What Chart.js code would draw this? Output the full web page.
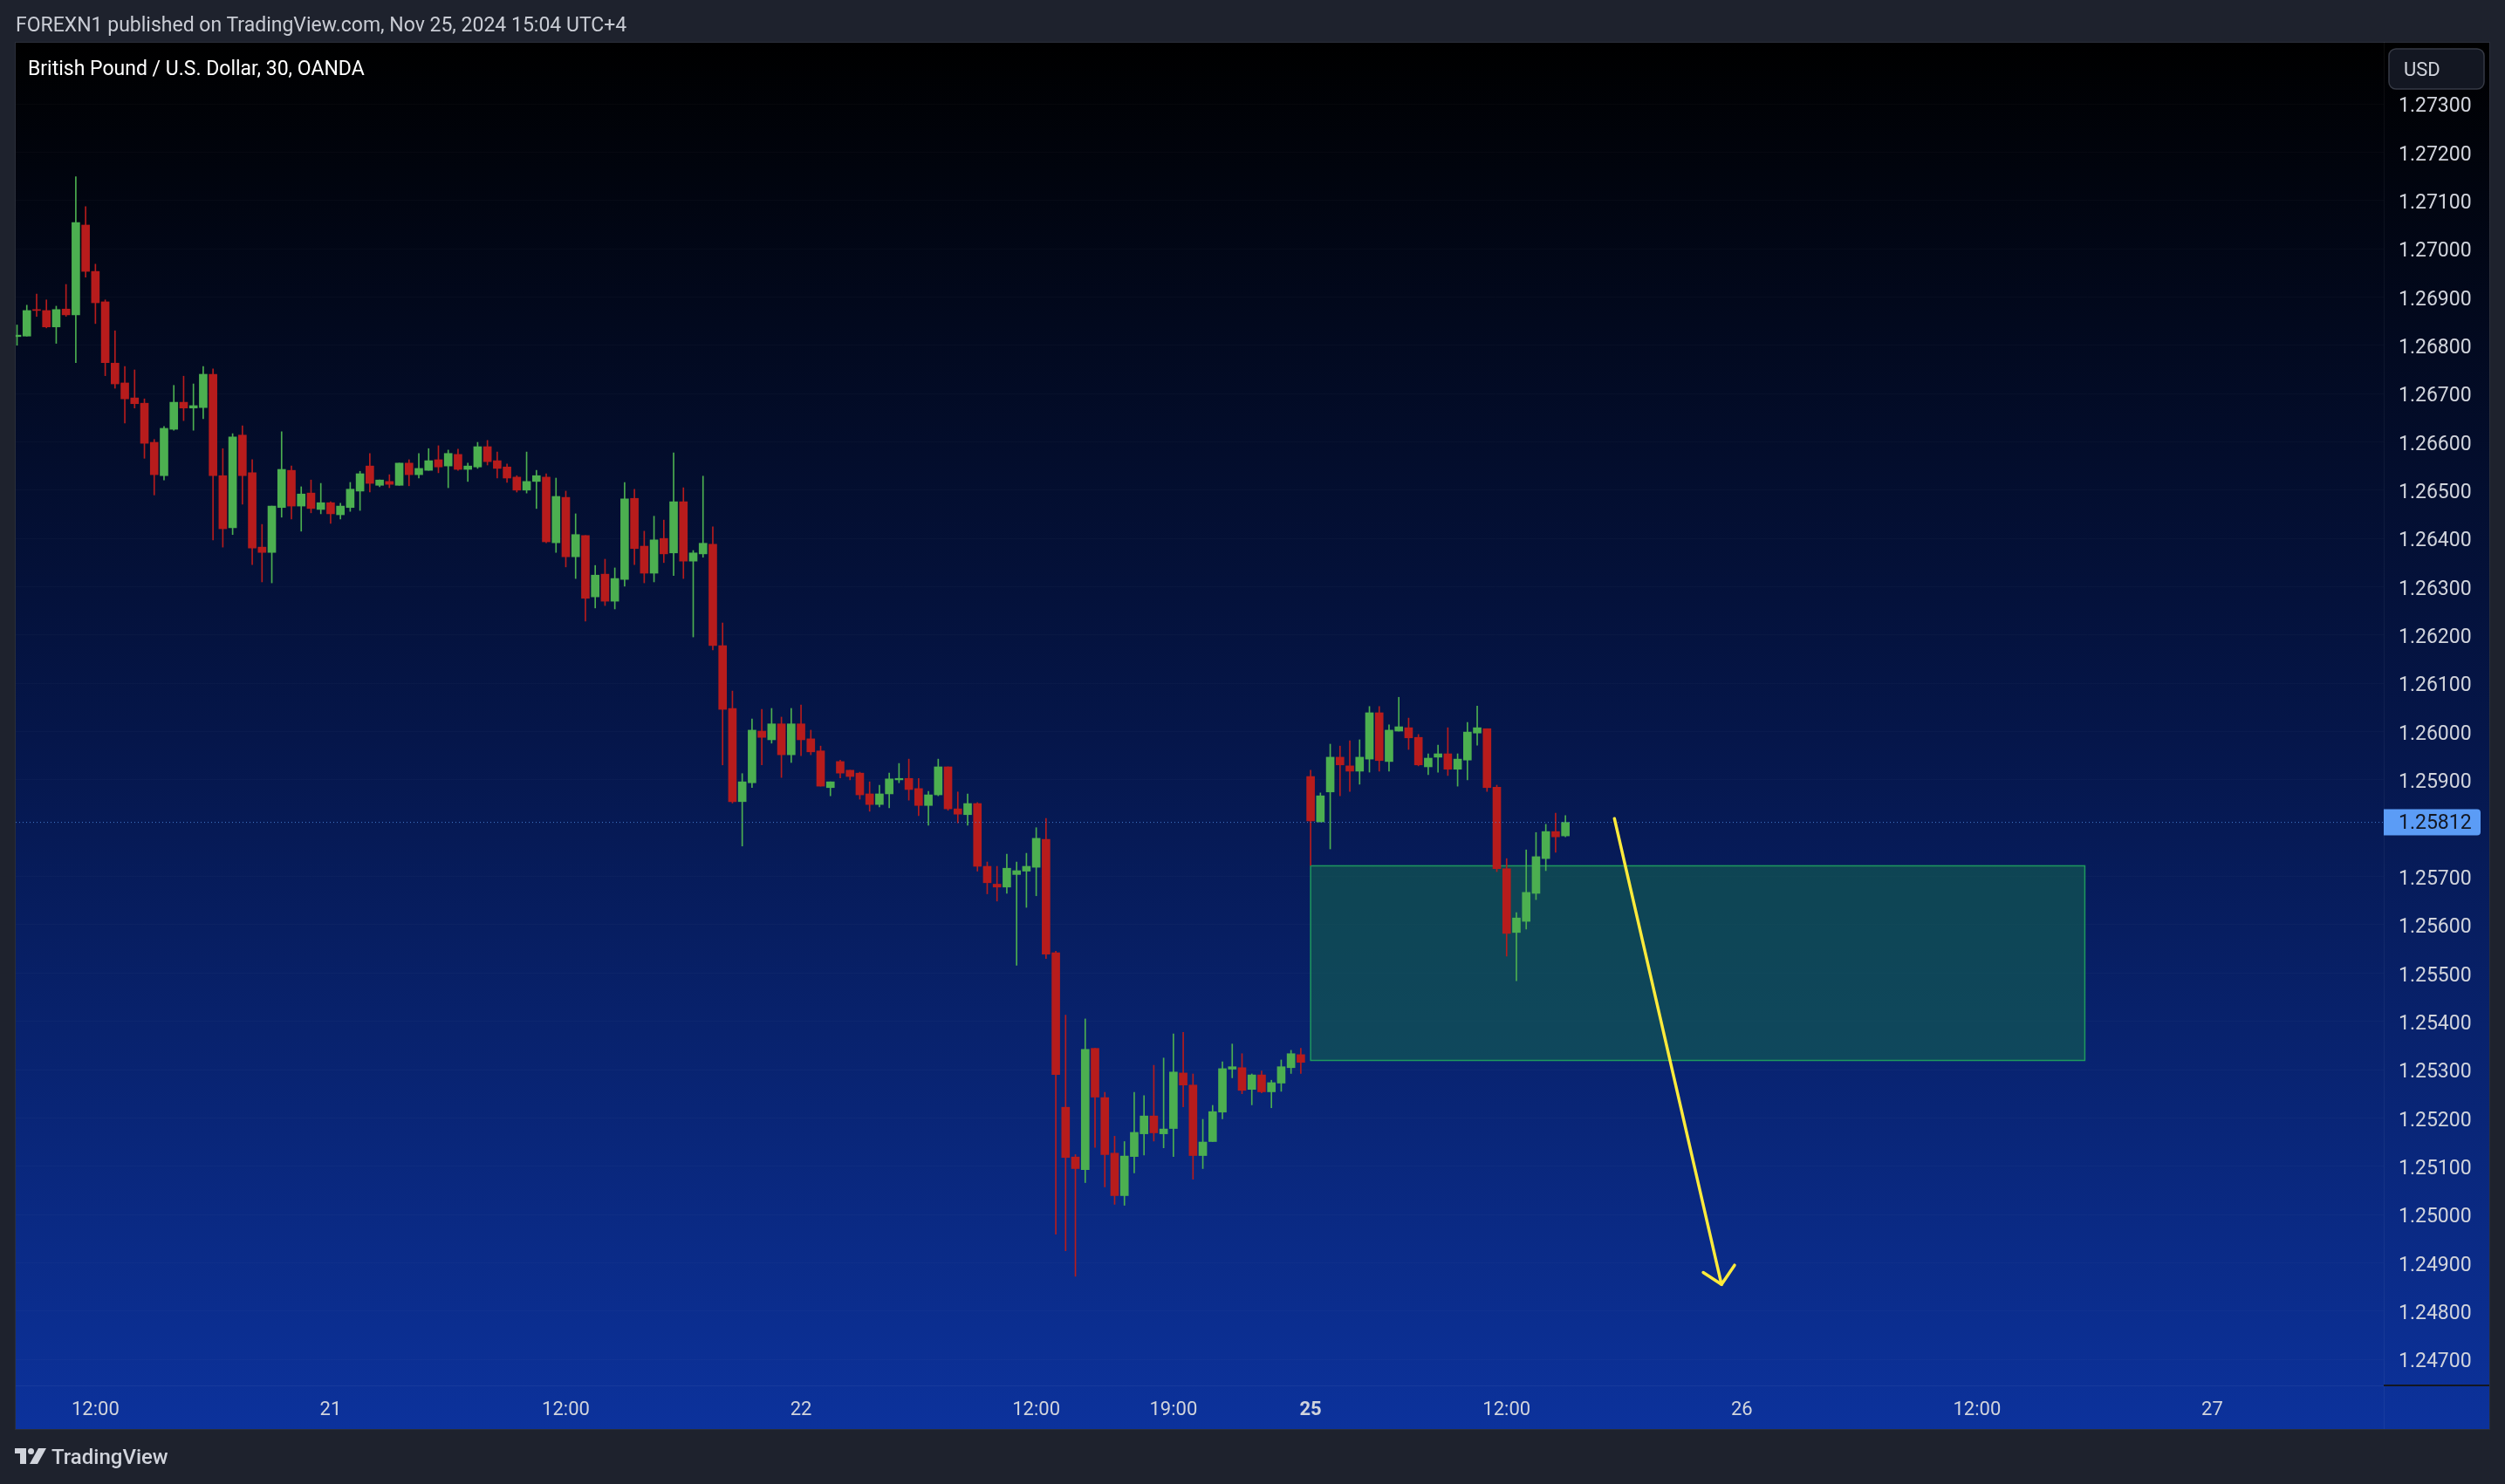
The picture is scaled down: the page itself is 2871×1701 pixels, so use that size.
<!DOCTYPE html>
<html>
<head>
<meta charset="utf-8">
<title>GBPUSD 30 OANDA</title>
<script src="https://cdn.jsdelivr.net/npm/chart.js@4.4.1/dist/chart.umd.min.js"></script>
<style>
html, body { margin: 0; padding: 0; background: #1e222d; overflow: hidden; }
#wrap { position: relative; width: 2871px; height: 1701px; }
canvas { position: absolute; left: 0; top: 0; }
.txt { position: absolute; font-family: Roboto, "Noto Sans", sans-serif; line-height: 1; white-space: nowrap; }
#pub { left: 18px; top: 17px; font-size: 23px; color: #c9ccd4; }
#title { left: 32px; top: 67px; font-size: 23px; color: #ffffff; }
#logoTxt { left: 59px; top: 1658px; font-size: 24px; color: #d1d4dc; font-weight: 500; }
#logoIcon { position: absolute; left: 17px; top: 1660px; }
</style>
</head>
<body>
<div id="wrap">
<canvas id="chart" width="2871" height="1701"></canvas>
<div class="txt" id="pub">FOREXN1 published on TradingView.com, Nov 25, 2024 15:04 UTC+4</div>
<div class="txt" id="title">British Pound / U.S. Dollar, 30, OANDA</div>
<svg id="logoIcon" width="36" height="18" viewBox="0 0 36 18">
  <path d="M0 0 H13 V18 H6 V6 H0 Z" fill="#d1d4dc"/>
  <circle cx="18.5" cy="3.5" r="3.5" fill="#d1d4dc"/>
  <polygon points="27,0 36,0 26,18 17,18" fill="#d1d4dc"/>
</svg>
<div class="txt" id="logoTxt">TradingView</div>
</div>
<script>
// 30 min candles, 20 Nov 08:00 -> 25 Nov 15:00 (weekend skipped)
var opens = [
  1.26818, 1.26819, 1.26874, 1.26872, 1.26838, 1.26875, 1.26863, 1.27049, 1.26953, 1.26890,
  1.26763, 1.26722, 1.26691, 1.26680, 1.26599, 1.26530, 1.26626, 1.26682, 1.26670, 1.26671,
  1.26740, 1.26530, 1.26422, 1.26614, 1.26536, 1.26382, 1.26371, 1.26464, 1.26541, 1.26467,
  1.26494, 1.26460, 1.26474, 1.26449, 1.26464, 1.26498, 1.26550, 1.26510, 1.26518, 1.26510,
  1.26556, 1.26532, 1.26541, 1.26563, 1.26550, 1.26574, 1.26543, 1.26548, 1.26590, 1.26561,
  1.26548, 1.26527, 1.26500, 1.26518, 1.26527, 1.26391, 1.26485, 1.26362, 1.26406, 1.26279,
  1.26326, 1.26270, 1.26315, 1.26483, 1.26384, 1.26328, 1.26400, 1.26370, 1.26476, 1.26353,
  1.26368, 1.26388, 1.26178, 1.26048, 1.25855, 1.25894, 1.26001, 1.25983, 1.26016, 1.25952,
  1.26016, 1.25985, 1.25960, 1.25884, 1.25938, 1.25920, 1.25914, 1.25871, 1.25849, 1.25871,
  1.25900, 1.25903, 1.25882, 1.25847, 1.25869, 1.25927, 1.25840, 1.25828, 1.25851, 1.25721,
  1.25684, 1.25678, 1.25704, 1.25711, 1.25719, 1.25777, 1.25542, 1.25222, 1.25119, 1.25093,
  1.25344, 1.25242, 1.25127, 1.25039, 1.25120, 1.25167, 1.25204, 1.25167, 1.25178, 1.25293,
  1.25268, 1.25122, 1.25151, 1.25212, 1.25301, 1.25304, 1.25259, 1.25289, 1.25254, 1.25272,
  1.25304, 1.25331, 1.25907, 1.25813, 1.25875, 1.25947, 1.25929, 1.25918, 1.25943, 1.26039,
  1.25938, 1.26001, 1.26008, 1.25988, 1.25927, 1.25947, 1.25954, 1.25922, 1.25941, 1.25997,
  1.26006, 1.25885, 1.25716, 1.25584, 1.25607, 1.25665, 1.25737, 1.25793, 1.25784
];
var highs = [
  1.26842, 1.26883, 1.26906, 1.26894, 1.26881, 1.26926, 1.27149, 1.27087, 1.26968, 1.26894,
  1.26830, 1.26756, 1.26749, 1.26689, 1.26605, 1.26632, 1.26717, 1.26736, 1.26720, 1.26756,
  1.26751, 1.26586, 1.26617, 1.26633, 1.26563, 1.26429, 1.26467, 1.26621, 1.26550, 1.26507,
  1.26521, 1.26514, 1.26476, 1.26473, 1.26516, 1.26539, 1.26576, 1.26521, 1.26532, 1.26556,
  1.26563, 1.26576, 1.26586, 1.26592, 1.26583, 1.26585, 1.26556, 1.26599, 1.26603, 1.26579,
  1.26554, 1.26530, 1.26579, 1.26541, 1.26534, 1.26525, 1.26498, 1.26451, 1.26406, 1.26344,
  1.26357, 1.26339, 1.26516, 1.26502, 1.26415, 1.26446, 1.26438, 1.26577, 1.26505, 1.26375,
  1.26529, 1.26424, 1.26225, 1.26084, 1.25913, 1.26026, 1.26046, 1.26048, 1.26030, 1.26048,
  1.26055, 1.26003, 1.25970, 1.25896, 1.25941, 1.25920, 1.25916, 1.25896, 1.25889, 1.25914,
  1.25934, 1.25943, 1.25903, 1.25876, 1.25943, 1.25927, 1.25875, 1.25871, 1.25853, 1.25730,
  1.25721, 1.25746, 1.25730, 1.25748, 1.25801, 1.25820, 1.25545, 1.25413, 1.25124, 1.25405,
  1.25344, 1.25253, 1.25162, 1.25151, 1.25253, 1.25246, 1.25309, 1.25324, 1.25374, 1.25377,
  1.25291, 1.25197, 1.25226, 1.25316, 1.25353, 1.25333, 1.25291, 1.25297, 1.25278, 1.25320,
  1.25340, 1.25344, 1.25920, 1.25873, 1.25974, 1.25970, 1.25981, 1.25983, 1.26052, 1.26052,
  1.26014, 1.26071, 1.26028, 1.25994, 1.25954, 1.25972, 1.26008, 1.25954, 1.26019, 1.26053,
  1.26006, 1.25889, 1.25737, 1.25625, 1.25755, 1.25791, 1.25808, 1.25831, 1.25826
];
var lows = [
  1.26800, 1.26819, 1.26860, 1.26836, 1.26804, 1.26860, 1.26764, 1.26941, 1.26845, 1.26737,
  1.26711, 1.26639, 1.26670, 1.26566, 1.26490, 1.26521, 1.26624, 1.26644, 1.26624, 1.26648,
  1.26397, 1.26382, 1.26408, 1.26471, 1.26346, 1.26310, 1.26308, 1.26444, 1.26440, 1.26415,
  1.26453, 1.26451, 1.26431, 1.26440, 1.26456, 1.26458, 1.26496, 1.26507, 1.26505, 1.26510,
  1.26509, 1.26525, 1.26541, 1.26536, 1.26505, 1.26541, 1.26518, 1.26545, 1.26552, 1.26525,
  1.26516, 1.26496, 1.26494, 1.26462, 1.26391, 1.26371, 1.26341, 1.26317, 1.26229, 1.26256,
  1.26261, 1.26254, 1.26301, 1.26346, 1.26308, 1.26310, 1.26350, 1.26323, 1.26317, 1.26196,
  1.26361, 1.26169, 1.25931, 1.25852, 1.25763, 1.25884, 1.25931, 1.25976, 1.25905, 1.25936,
  1.25950, 1.25952, 1.25887, 1.25867, 1.25904, 1.25900, 1.25860, 1.25835, 1.25844, 1.25842,
  1.25894, 1.25858, 1.25826, 1.25806, 1.25867, 1.25837, 1.25811, 1.25806, 1.25711, 1.25664,
  1.25649, 1.25665, 1.25516, 1.25636, 1.25660, 1.25530, 1.24959, 1.24925, 1.24872, 1.25066,
  1.25139, 1.25057, 1.25021, 1.25019, 1.25086, 1.25123, 1.25152, 1.25138, 1.25120, 1.25223,
  1.25073, 1.25095, 1.25151, 1.25198, 1.25283, 1.25250, 1.25227, 1.25252, 1.25221, 1.25255,
  1.25292, 1.25292, 1.25723, 1.25813, 1.25757, 1.25867, 1.25876, 1.25891, 1.25916, 1.25918,
  1.25918, 1.26001, 1.25963, 1.25929, 1.25911, 1.25916, 1.25909, 1.25887, 1.25900, 1.25972,
  1.25876, 1.25710, 1.25535, 1.25484, 1.25591, 1.25652, 1.25712, 1.25750, 1.25782
];
var closes = [
  1.26821, 1.26872, 1.26872, 1.26838, 1.26874, 1.26863, 1.27054, 1.26953, 1.26888, 1.26764,
  1.26720, 1.26689, 1.26679, 1.26597, 1.26532, 1.26628, 1.26682, 1.26670, 1.26675, 1.26740,
  1.26530, 1.26420, 1.26610, 1.26530, 1.26380, 1.26371, 1.26467, 1.26543, 1.26467, 1.26492,
  1.26462, 1.26474, 1.26451, 1.26467, 1.26502, 1.26534, 1.26514, 1.26521, 1.26512, 1.26556,
  1.26532, 1.26545, 1.26561, 1.26548, 1.26576, 1.26543, 1.26550, 1.26590, 1.26559, 1.26545,
  1.26525, 1.26500, 1.26518, 1.26530, 1.26393, 1.26487, 1.26362, 1.26408, 1.26276, 1.26324,
  1.26270, 1.26317, 1.26482, 1.26379, 1.26328, 1.26397, 1.26368, 1.26476, 1.26353, 1.26370,
  1.26390, 1.26178, 1.26046, 1.25855, 1.25896, 1.26003, 1.25988, 1.26016, 1.25952, 1.26016,
  1.25983, 1.25958, 1.25887, 1.25896, 1.25914, 1.25907, 1.25869, 1.25849, 1.25871, 1.25902,
  1.25903, 1.25880, 1.25847, 1.25869, 1.25927, 1.25840, 1.25829, 1.25851, 1.25721, 1.25687,
  1.25678, 1.25717, 1.25712, 1.25721, 1.25779, 1.25539, 1.25290, 1.25118, 1.25095, 1.25342,
  1.25243, 1.25124, 1.25039, 1.25121, 1.25170, 1.25204, 1.25169, 1.25177, 1.25295, 1.25268,
  1.25122, 1.25150, 1.25213, 1.25302, 1.25306, 1.25257, 1.25289, 1.25254, 1.25273, 1.25306,
  1.25333, 1.25315, 1.25815, 1.25867, 1.25947, 1.25931, 1.25918, 1.25947, 1.26039, 1.25940,
  1.26003, 1.26010, 1.25987, 1.25931, 1.25945, 1.25954, 1.25922, 1.25943, 1.25999, 1.26008,
  1.25884, 1.25716, 1.25582, 1.25614, 1.25667, 1.25741, 1.25793, 1.25782, 1.25812
];

// time axis: bar index of each label
var timeTickIdx = [8, 32, 56, 80, 104, 118, 132, 152, 176, 200, 224];
var timeLabels = ['12:00', '21', '12:00', '22', '12:00', '19:00', '25', '12:00', '26', '12:00', '27'];

var priceTicks = [
  1.247, 1.248, 1.249, 1.250, 1.251, 1.252, 1.253, 1.254, 1.255, 1.256, 1.257,
  1.259, 1.260, 1.261, 1.262, 1.263, 1.264, 1.265, 1.266, 1.267, 1.268, 1.269,
  1.270, 1.271, 1.272, 1.273
];
var lastPrice = 1.25812;

// drawings
var zoneX = [132, 211];
var zoneY = [1.25319, 1.25722];
var arrowShaftX = [163.0, 173.93];
var arrowShaftY = [1.25820, 1.24855];
var arrowHeadX = [172.06, 173.93, 175.26];
var arrowHeadY = [1.24880, 1.24855, 1.24895];

var UP = '#4caf50', DOWN = '#b71c1c';

function points(xs, ys) {
  var out = [];
  for (var i = 0; i < xs.length; i++) out.push({x: xs[i], y: ys[i]});
  return out;
}

var bodies = [], wicks = [], colors = [];
for (var i = 0; i < opens.length; i++) {
  bodies.push({x: i, y: [opens[i], closes[i]]});
  wicks.push({x: i, y: [lows[i], highs[i]]});
  colors.push(closes[i] >= opens[i] ? UP : DOWN);
}

var xMin = -0.134, xMax = 241.5;

var paneBg = {
  id: 'paneBg',
  beforeDraw: function(chart) {
    var ctx = chart.ctx;
    var xs = chart.scales.x, ys = chart.scales.y;
    var left = chart.chartArea.left, top = chart.chartArea.top;
    var right = ys.right, bottom = xs.bottom;
    ctx.save();
    ctx.fillStyle = '#1e222d';
    ctx.fillRect(0, 0, chart.width, chart.height);
    var g = ctx.createLinearGradient(0, top, 0, bottom);
    g.addColorStop(0, '#000000');
    g.addColorStop(0.5, '#05164a');
    g.addColorStop(1, '#0c329c');
    ctx.fillStyle = g;
    ctx.fillRect(left, top, right - left, bottom - top);
    ctx.strokeStyle = '#2a2e39';
    ctx.lineWidth = 1;
    ctx.strokeRect(left - 0.5, top - 0.5, right - left + 1, bottom - top + 1);
    ctx.restore();
  },
  beforeDatasetsDraw: function(chart) {
    var ctx = chart.ctx, a = chart.chartArea;
    var xs = chart.scales.x, ys = chart.scales.y;
    var x1 = xs.getPixelForValue(zoneX[0]), x2 = xs.getPixelForValue(zoneX[1]);
    var y1 = ys.getPixelForValue(zoneY[1]), y2 = ys.getPixelForValue(zoneY[0]);
    ctx.save();
    ctx.beginPath();
    ctx.rect(a.left, a.top, a.right - a.left, a.bottom - a.top);
    ctx.clip();
    ctx.fillStyle = 'rgba(20,96,80,0.6)';
    ctx.fillRect(x1, y1, x2 - x1, y2 - y1);
    ctx.strokeStyle = '#1f9a5e';
    ctx.lineWidth = 1.5;
    ctx.strokeRect(x1, y1, x2 - x1, y2 - y1);
    ctx.restore();
  },
  afterDraw: function(chart) {
    var ctx = chart.ctx;
    var xs = chart.scales.x, ys = chart.scales.y;
    ctx.save();
    // axis separators
    ctx.fillStyle = 'rgba(255,255,255,0.05)';
    ctx.fillRect(ys.left, ys.top - 1, 1, xs.bottom - ys.top + 1);
    ctx.fillRect(xs.left, xs.top, xs.right - xs.left, 1);
    ctx.fillStyle = '#131722';
    ctx.fillRect(ys.left, xs.top - 1, ys.right - ys.left, 2);
    // last price label
    var py = ys.getPixelForValue(lastPrice);
    ctx.fillStyle = '#5b9cf6';
    ctx.beginPath();
    ctx.roundRect(ys.left, py - 15, 111, 30, [0, 4, 4, 0]);
    ctx.fill();
    ctx.fillStyle = '#131722';
    ctx.font = '23px Roboto';
    ctx.textBaseline = 'middle';
    ctx.textAlign = 'left';
    ctx.fillText(lastPrice.toFixed(5), ys.left + 17, py + 2);
    // currency button
    ctx.fillStyle = '#131722';
    ctx.strokeStyle = '#363a45';
    ctx.lineWidth = 1.5;
    ctx.beginPath();
    ctx.roundRect(ys.left + 6, ys.top + 7, 109, 46, 8);
    ctx.fill();
    ctx.stroke();
    ctx.fillStyle = '#d1d4dc';
    ctx.font = '22px Roboto';
    ctx.fillText('USD', ys.left + 23, ys.top + 32);
    ctx.restore();
  }
};

var chart = new Chart(document.getElementById('chart').getContext('2d'), {
  type: 'bar',
  data: {
    datasets: [{
      type: 'line',
      data: points(arrowShaftX, arrowShaftY),
      borderColor: '#ffeb3b',
      borderWidth: 3.5,
      borderCapStyle: 'round',
      pointRadius: 0
    }, {
      type: 'line',
      data: points(arrowHeadX, arrowHeadY),
      borderColor: '#ffeb3b',
      borderWidth: 3.5,
      borderCapStyle: 'round',
      borderJoinStyle: 'round',
      pointRadius: 0
    }, {
      type: 'line',
      data: points([xMin, xMax], [lastPrice, lastPrice]),
      borderColor: 'rgba(91,156,246,0.75)',
      borderWidth: 1,
      borderDash: [1, 3],
      pointRadius: 0
    }, {
      data: bodies,
      backgroundColor: colors,
      barThickness: 9,
      minBarLength: 1,
      grouped: false
    }, {
      data: wicks,
      backgroundColor: colors,
      barThickness: 1,
      grouped: false
    }]
  },
  options: {
    responsive: false,
    animation: false,
    events: [],
    layout: { padding: { left: 18, top: 49, right: 18, bottom: 63 } },
    plugins: { legend: { display: false }, tooltip: { enabled: false } },
    scales: {
      x: {
        type: 'linear',
        min: xMin,
        max: xMax,
        offset: false,
        afterFit: function(scale) { scale.height = 50; },
        afterBuildTicks: function(scale) {
          scale.ticks = timeTickIdx.map(function(v) { return {value: v}; });
        },
        grid: { display: false },
        border: { display: false },
        ticks: {
          autoSkip: false,
          maxRotation: 0,
          padding: 7,
          color: '#d1d4dc',
          font: function(c) {
            return { family: 'Roboto', size: 22, weight: (c.tick && c.tick.value === 132) ? 'bold' : 'normal' };
          },
          callback: function(value, index) { return timeLabels[index]; }
        }
      },
      y: {
        position: 'right',
        min: 1.246460,
        max: 1.274265,
        afterFit: function(scale) { scale.width = 121; },
        afterBuildTicks: function(scale) {
          scale.ticks = priceTicks.map(function(v) { return {value: v}; });
        },
        grid: { color: 'rgba(255,255,255,0.025)', drawTicks: false },
        border: { display: false },
        ticks: {
          padding: 17,
          labelOffset: 3.5,
          color: '#d1d4dc',
          font: { family: 'Roboto', size: 23 },
          callback: function(value) { return value.toFixed(5); }
        }
      }
    }
  },
  plugins: [paneBg]
});
</script>
</body>
</html>
